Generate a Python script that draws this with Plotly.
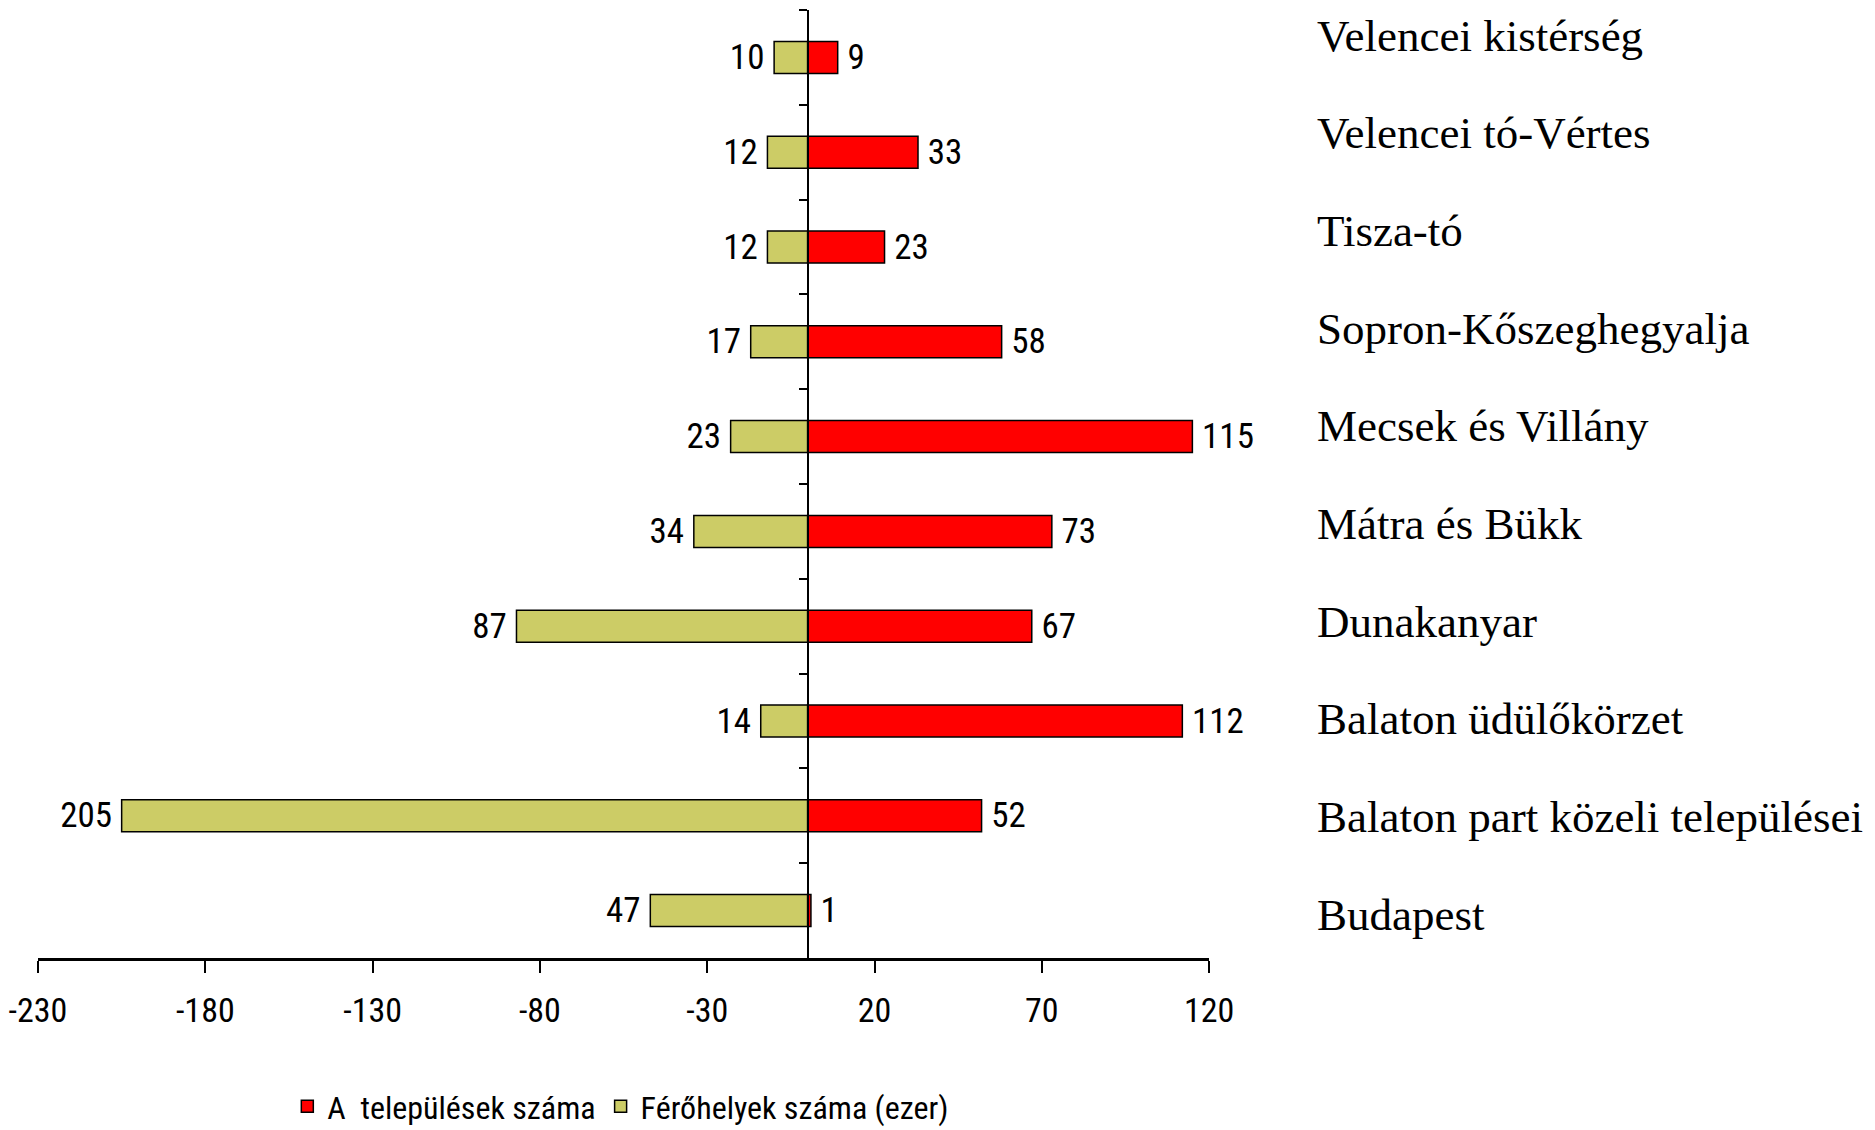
import plotly.graph_objects as go

regions = ["Velencei kistérség", "Velencei tó-Vértes", "Tisza-tó",
           "Sopron-Kőszeghegyalja", "Mecsek és Villány", "Mátra és Bükk",
           "Dunakanyar", "Balaton üdülőkörzet", "Balaton part közeli települései",
           "Budapest"]
settlements = [9, 33, 23, 58, 115, 73, 67, 112, 52, 1]
capacity = [10, 12, 12, 17, 23, 34, 87, 14, 205, 47]
x_ticks = [-230, -180, -130, -80, -30, 20, 70, 120]

narrow = "Roboto Condensed, Liberation Sans, Arial, sans-serif"
serif = "Liberation Serif, Times New Roman, serif"

x_min, x_max = x_ticks[0], x_ticks[-1]
dom_end = 0.641
zero_pos = (0 - x_min) / (x_max - x_min) * dom_end

fig = go.Figure()
fig.add_trace(go.Bar(
    y=regions, x=settlements, orientation="h",
    name="A\u00a0 települések száma",
    marker=dict(color="#FF0000", line=dict(color="black", width=1.5)),
    text=settlements, texttemplate="\u2009%{text}",
    textposition="outside", constraintext="none",
    textfont=dict(family=narrow, size=35, color="black"),
    width=0.338, cliponaxis=False, hoverinfo="skip",
))
fig.add_trace(go.Bar(
    y=regions, x=[-v for v in capacity], orientation="h",
    name="Férőhelyek száma (ezer)",
    marker=dict(color="#CCCC66", line=dict(color="black", width=1.5)),
    text=capacity, texttemplate="%{text}\u2009",
    textposition="outside", constraintext="none",
    textfont=dict(family=narrow, size=35, color="black"),
    width=0.338, cliponaxis=False, hoverinfo="skip",
))
# invisible trace so the right-hand label axis gets drawn
fig.add_trace(go.Scatter(
    x=[0] * len(regions), y=regions, yaxis="y2", mode="markers",
    marker=dict(opacity=0), showlegend=False, hoverinfo="skip",
))

# page body has an 8px margin, so the figure is 8px smaller than the window
fig.update_layout(
    width=1867, height=1122,
    margin=dict(l=30, r=10, t=2, b=172, autoexpand=False),
    paper_bgcolor="white", plot_bgcolor="white",
    barmode="relative",
    showlegend=True,
    legend=dict(orientation="h", x=0.319, xanchor="center",
                yref="container", y=0.021, yanchor="middle",
                font=dict(family=narrow, size=32, color="black")),
    xaxis=dict(
        domain=[0, dom_end], range=[x_min, x_max],
        tickmode="array", tickvals=x_ticks, ticktext=[str(v) for v in x_ticks],
        ticks="outside", ticklen=12, tickwidth=2, tickcolor="black",
        showline=True, linewidth=3, linecolor="black",
        showgrid=False, zeroline=False, automargin=False,
        tickfont=dict(family=narrow, size=34, color="black"),
        ticklabelstandoff=8,
    ),
    yaxis=dict(
        type="category", range=[9.5, -0.5],
        anchor="free", position=zero_pos,
        showticklabels=False, ticks="outside", tickson="boundaries",
        ticklen=8, tickwidth=2, tickcolor="black",
        showline=True, linewidth=2, linecolor="black",
        showgrid=False, zeroline=False, automargin=False,
    ),
    yaxis2=dict(
        type="category", overlaying="y", anchor="free", side="right",
        position=0.6995, range=[9.45, -0.256],
        showline=False, ticks="", showgrid=False, zeroline=False, automargin=False,
        tickfont=dict(family=serif, size=45, color="black"),
    ),
)

fig.write_html("out.html")
